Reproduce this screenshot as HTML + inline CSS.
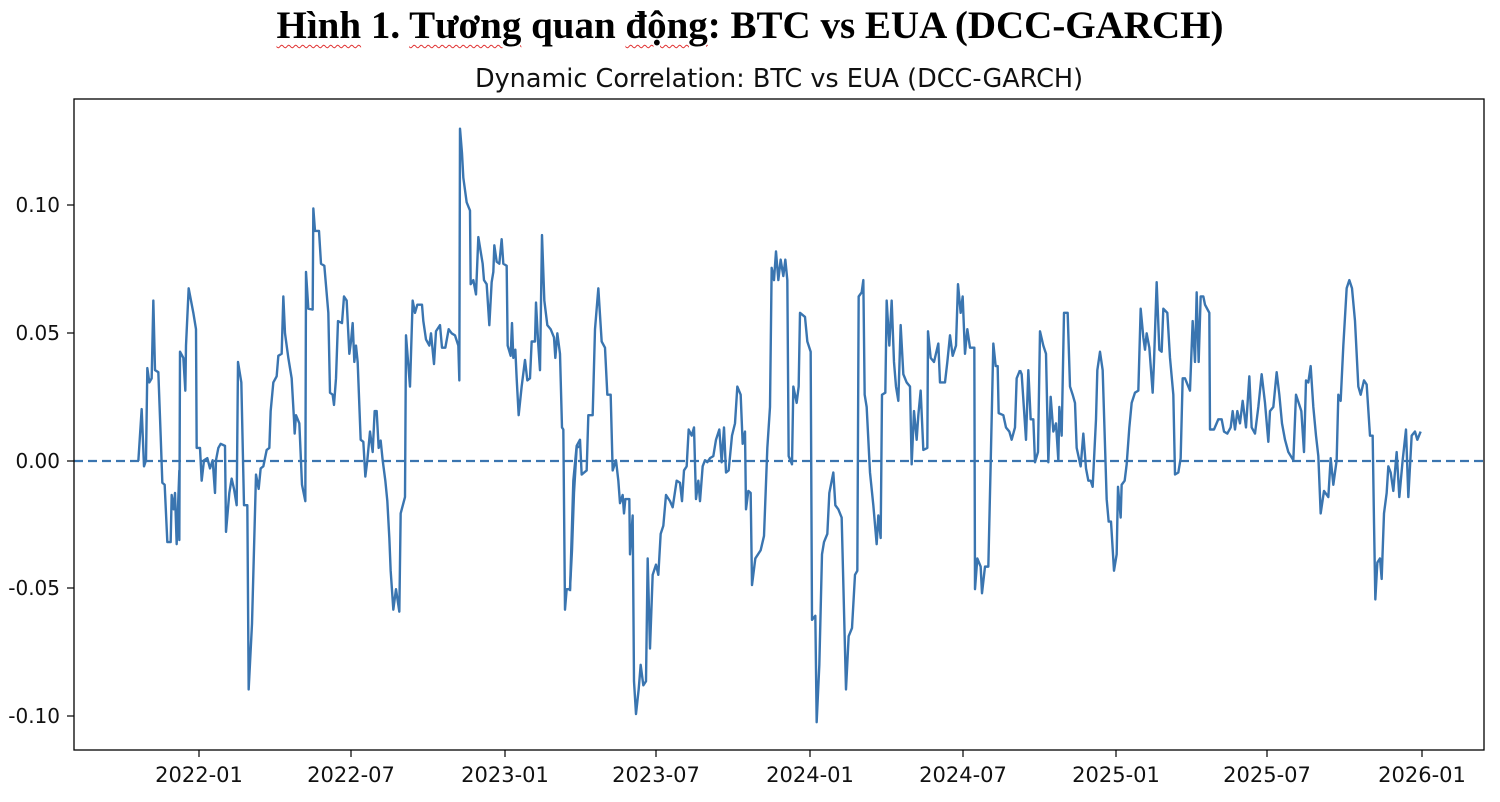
<!DOCTYPE html>
<html><head><meta charset="utf-8"><style>
body{margin:0;background:#fff;width:1500px;height:802px;overflow:hidden;}
.t{position:absolute;left:0;width:1500px;text-align:center;top:3px;font-family:"Liberation Serif",serif;font-weight:bold;font-size:39px;color:#000;}
.w{text-decoration:underline wavy #e03030;text-decoration-thickness:1px;text-underline-offset:6px;}
</style></head><body>
<div class="t"><span class="w">Hình</span> 1. <span class="w">Tương</span> quan <span class="w">động</span>: BTC vs EUA (DCC-GARCH)</div>
<svg width="1500" height="802" style="position:absolute;left:0;top:0" font-family="DejaVu Sans, sans-serif">
<text x="779" y="87" font-size="25.5" text-anchor="middle" fill="#111">Dynamic Correlation: BTC vs EUA (DCC-GARCH)</text>
<g stroke="#000" stroke-width="1.2">
<line x1="67" y1="205" x2="74" y2="205"/><line x1="67" y1="333" x2="74" y2="333"/><line x1="67" y1="461" x2="74" y2="461"/><line x1="67" y1="588" x2="74" y2="588"/><line x1="67" y1="716" x2="74" y2="716"/>
<line x1="199" y1="750" x2="199" y2="757"/><line x1="351" y1="750" x2="351" y2="757"/><line x1="505" y1="750" x2="505" y2="757"/><line x1="656" y1="750" x2="656" y2="757"/><line x1="810" y1="750" x2="810" y2="757"/><line x1="963" y1="750" x2="963" y2="757"/><line x1="1116" y1="750" x2="1116" y2="757"/><line x1="1267" y1="750" x2="1267" y2="757"/><line x1="1422" y1="750" x2="1422" y2="757"/>
</g>
<g font-size="20" fill="#111" text-anchor="end">
<text x="60" y="212">0.10</text><text x="60" y="340">0.05</text><text x="60" y="468">0.00</text><text x="60" y="595">-0.05</text><text x="60" y="723">-0.10</text>
</g>
<g font-size="21" fill="#111" text-anchor="middle">
<text x="199" y="782">2022-01</text><text x="351" y="782">2022-07</text><text x="505" y="782">2023-01</text><text x="656" y="782">2023-07</text><text x="810" y="782">2024-01</text><text x="963" y="782">2024-07</text><text x="1116" y="782">2025-01</text><text x="1267" y="782">2025-07</text><text x="1422" y="782">2026-01</text>
</g>
<line x1="74" y1="461" x2="1484" y2="461" stroke="#3a75b0" stroke-width="2.2" stroke-dasharray="9,5"/>
<g fill="none" stroke="#3a75b0" stroke-width="2.4" stroke-linejoin="round">
<g transform="translate(130,100) scale(0.33333,0.40933)">
<polyline vector-effect="non-scaling-stroke" points="25,882 35,755 42,895 48,880 52,655 58,690 65,680 70,490 75,660 85,665 92,820 97,935 104,940 112,1080 122,1080 125,965 131,1000 135,960 140,1085 148,905 148,1075 150,615 160,630 166,710 168,600 176,460 190,520 198,560 200,850 210,850 215,930 222,880 232,875 240,900 248,880 255,960 258,880 265,850 272,840 285,845 288,1055 298,960 305,925 312,950 320,990 324,640 334,690 342,990 352,990 356,1440 366,1280 378,915 386,950 392,900 400,895 410,855 418,850 422,760 430,690 440,675 445,625 455,620 460,480 465,570 475,630 485,680 492,780 494,815 498,770 508,790 516,940 526,980 528,420 535,510 548,512 550,265 555,320 567,320 573,400 583,405 595,520 600,715 608,720 612,745 618,680 624,540 636,545 642,480 650,490 658,620 663,590 668,545 673,640 678,600 683,640 692,830 700,835 706,920 712,880 720,810 728,860 734,760 740,760 746,850 752,832 758,880 766,930 772,980 778,1070 782,1150 790,1245 798,1195 808,1250 812,1010 825,970 828,575 840,700 848,490 855,520 862,500 876,500 880,540 888,585 898,600 903,570 912,645 918,565 930,550 936,605 946,605 956,560 965,570 975,575 985,600 988,685 990,70 996,130 1000,190 1010,250 1020,270 1022,450 1030,440 1038,475 1045,335 1058,400 1062,440 1070,450 1078,550 1085,445 1090,420 1093,355 1100,395 1108,400 1115,340 1120,400 1130,405 1133,600 1142,625 1146,545 1150,630 1156,610 1160,680 1166,770 1175,700 1185,635 1192,685 1200,680 1205,590 1215,590 1218,495 1225,600 1230,660 1236,330 1243,490 1252,550 1262,560 1272,580 1276,630 1282,570 1290,620 1296,800 1300,805 1305,1245 1310,1195 1320,1195 1326,1100 1332,960 1340,850 1350,845"/>
</g>
<g transform="translate(570,100) scale(0.33333,0.40933)">
<polyline vector-effect="non-scaling-stroke" points="0,1200 10,930 20,845 30,830 35,915 50,905 55,770 68,770 75,560 85,460 95,590 105,605 112,720 122,720 128,905 138,880 145,930 150,985 158,965 162,1010 166,975 178,975 180,1110 188,1015 192,1420 198,1500 206,1440 212,1380 220,1430 228,1420 233,1120 240,1340 248,1160 258,1135 265,1160 272,1060 280,1040 288,965 300,980 308,995 320,930 330,935 336,980 342,905 350,895 356,805 365,820 372,800 378,975 385,930 390,980 398,895 405,880 412,885 420,875 430,870 438,830 448,805 455,885 462,800 468,910 476,905 486,820 495,790 502,700 512,720 518,840 525,810 528,1000 535,955 542,960 546,1185 556,1120 572,1100 582,1065 592,850 600,750 605,410 612,440 618,370 625,440 632,390 640,430 646,390 652,440 656,870 666,890 670,700 680,740 686,700 690,520 705,530 712,590 722,615 726,1270 736,1260 740,1520 748,1380 756,1110 762,1080 772,1060 778,960 790,910 796,990 805,1000 815,1020 828,1440 836,1310 846,1290 855,1160 862,1150 866,480 875,470 880,440 884,720 890,750 900,910 910,990 920,1085 925,1015 932,1070 936,720 946,715 950,490 958,600 965,490 972,640 978,700 985,735 992,550 1000,670 1010,690 1020,700 1025,890 1032,760 1040,830 1045,770 1052,710 1060,855 1072,850 1074,565 1082,630 1092,640 1105,595 1110,690 1125,690 1132,640 1140,575 1148,625 1158,600 1164,450 1172,520 1178,480 1185,620 1192,560 1200,605 1213,605 1215,1195 1222,1120 1232,1140 1236,1205 1245,1140 1255,1140 1262,890 1270,595 1277,650 1283,650 1286,765 1300,770 1308,800 1318,810 1325,830 1335,800 1340,680 1350,660"/>
</g>
<g transform="translate(1010,100) scale(0.33333,0.40933)">
<polyline vector-effect="non-scaling-stroke" points="30,660 35,670 48,830 55,660 62,780 70,780 75,885 84,860 90,565 100,600 108,620 115,885 122,725 130,810 138,790 145,880 148,750 155,820 162,520 173,520 180,700 188,720 195,740 200,850 212,895 220,815 228,900 235,930 242,930 248,945 258,780 262,660 270,615 278,660 290,975 296,1030 303,1030 312,1150 320,1110 324,945 332,1020 335,940 344,930 350,890 358,800 365,740 375,715 385,710 392,510 400,580 405,610 410,570 418,605 428,715 432,640 440,445 448,610 455,615 460,510 472,520 480,630 490,720 495,915 505,910 512,875 518,680 525,680 535,700 540,710 548,540 555,640 560,470 566,640 572,480 580,480 585,500 598,520 600,805 612,805 625,780 635,780 642,810 652,815 662,800 668,760 675,805 682,760 690,790 698,735 708,800 718,675 725,800 735,815 745,750 755,670 765,740 775,835 780,760 790,750 800,665 808,720 816,790 825,830 835,860 850,880 858,720 866,740 874,760 882,860 888,685 895,690 902,650 910,750 918,820 925,870 932,1010 942,955 955,970 962,875 970,940 980,880 985,720 992,735 1000,600 1010,460 1018,440 1026,460 1035,540 1045,700 1052,720 1062,685 1070,695 1080,820 1088,820 1092,1030 1096,1220 1102,1130 1110,1120 1115,1170 1122,1010 1130,960 1135,895 1142,910 1150,955 1160,860 1168,970 1178,880 1188,805 1195,970 1205,820 1215,810 1222,830 1232,810"/>
</g>
</g>
<rect x="74" y="99" width="1410" height="651" fill="none" stroke="#000" stroke-width="1.3"/>
</svg>
</body></html>
